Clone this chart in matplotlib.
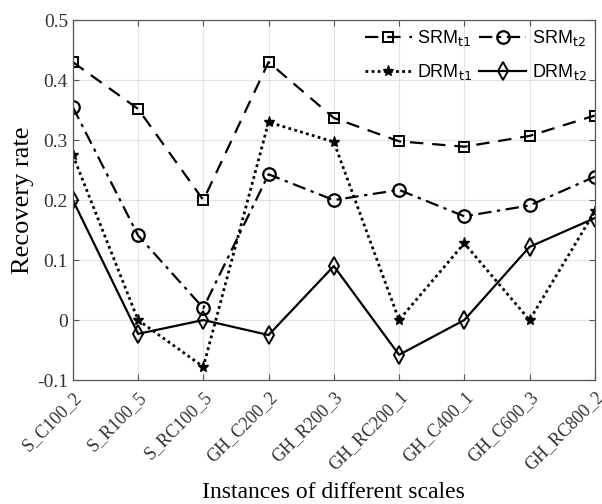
import matplotlib
matplotlib.use("Agg")
import matplotlib.pyplot as plt
import numpy as np

# Instances and recovery rates
instances = ["S_C100_2", "S_R100_5", "S_RC100_5", "GH_C200_2", "GH_R200_3",
             "GH_RC200_1", "GH_C400_1", "GH_C600_3", "GH_RC800_2"]
srm_t1 = [0.430, 0.352, 0.200, 0.430, 0.337, 0.298, 0.289, 0.307, 0.341]
srm_t2 = [0.355, 0.141, 0.020, 0.243, 0.200, 0.217, 0.173, 0.191, 0.239]
drm_t1 = [0.275, 0.000, -0.078, 0.330, 0.297, 0.000, 0.128, 0.000, 0.181]
drm_t2 = [0.200, -0.023, 0.000, -0.025, 0.090, -0.058, 0.000, 0.122, 0.170]

fig = plt.figure(figsize=(6.02, 5.04), dpi=100)
ax = fig.add_axes([0.121, 0.246, 0.867, 0.714])

x = np.arange(len(instances))
lw = 1.6
h1, = ax.plot(x, srm_t1, linestyle=(0, (6, 4)), color="black", lw=lw, marker="s",
              markersize=7, markerfacecolor="none", markeredgewidth=1.4,
              label=r"SRM$_{\mathrm{t1}}$")
h2, = ax.plot(x, srm_t2, linestyle=(0, (6, 2.5, 1.5, 2.5)), color="black", lw=lw, marker="o",
              markersize=9, markerfacecolor="none", markeredgewidth=1.6,
              label=r"SRM$_{\mathrm{t2}}$")
h3, = ax.plot(x, drm_t1, linestyle=(0, (1, 1.2)), color="black", lw=2.0, marker="*",
              markersize=8, markerfacecolor="black", markeredgewidth=1.0,
              label=r"DRM$_{\mathrm{t1}}$")
h4, = ax.plot(x, drm_t2, linestyle="-", color="black", lw=lw, marker="d",
              markersize=9, markerfacecolor="none", markeredgewidth=1.4,
              label=r"DRM$_{\mathrm{t2}}$")

ax.set_xlim(0, len(instances) - 1)
ax.set_ylim(-0.1, 0.5)
ax.set_yticks([-0.1, 0, 0.1, 0.2, 0.3, 0.4, 0.5])
ax.set_yticklabels(["-0.1", "0", "0.1", "0.2", "0.3", "0.4", "0.5"],
                   family="Liberation Serif", fontsize=14, color="#333333")
ax.set_xticks(x)
ax.set_xticklabels(instances, rotation=45, ha="right", rotation_mode="anchor",
                   family="Liberation Serif", fontsize=13, color="#333333")
ax.tick_params(direction="in", top=True, right=True, length=4, color="#555555")
ax.tick_params(axis="x", pad=6)
ax.grid(True, color="#e3e3e3", lw=0.8)
for s in ax.spines.values():
    s.set_color("#555555")
    s.set_linewidth(0.9)

ax.set_xlabel("Instances of different scales", family="Liberation Serif",
              fontsize=17, labelpad=6)
ax.set_ylabel("Recovery rate", family="Liberation Serif", fontsize=19, labelpad=2)

# column-wise fill: put SRM in the first row, DRM in the second
ax.legend([h1, h3, h2, h4], [h1.get_label(), h3.get_label(), h2.get_label(), h4.get_label()],
          ncol=2, loc="upper right", frameon=False,
          prop={"family": "Liberation Sans", "size": 13},
          handlelength=2.6, columnspacing=0.4, handletextpad=0.3,
          borderaxespad=0.05, labelspacing=0.75)

fig.savefig("out.png", dpi=100)
